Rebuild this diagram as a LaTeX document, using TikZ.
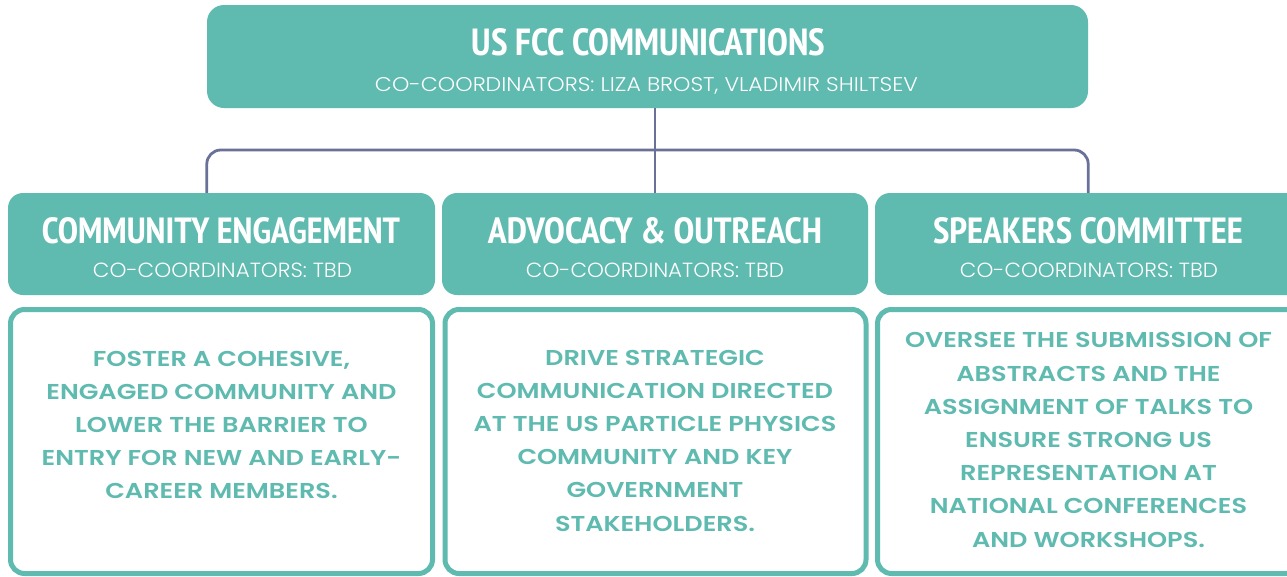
\documentclass[tikz,border=0pt]{standalone}
\usepackage{fontspec}
\usepackage{graphicx}
\IfFontExistsTF{PT Sans Narrow}{\newfontfamily\headf{PT Sans Narrow}}{\newfontfamily\headf{Fira Sans}}
\IfFontExistsTF{Poppins SemiBold}{\newfontfamily\bodyf{Poppins SemiBold}[FakeStretch=1.19]}{\newfontfamily\bodyf{Poppins}[UprightFont=*-Bold,FakeStretch=1.15]}
\IfFontExistsTF{Poppins Light}{\newfontfamily\subf{Poppins Light}}{\newfontfamily\subf{Poppins}}
\definecolor{tealc}{HTML}{5FBAB0}
\definecolor{connc}{HTML}{6A7198}
\newcommand{\fitbox}[3]{\resizebox{#1pt}{#2pt}{#3}}
\tikzset{
  fillbox/.style={fill=tealc, draw=none, rounded corners=15pt, inner sep=0pt},
  framebox/.style={fill=white, draw=tealc, line width=5pt, rounded corners=14pt, inner sep=0pt},
  headtxt/.style={anchor=base, text=white, inner sep=0pt},
  bodytxt/.style={align=center, text=tealc, inner sep=0pt, font=\bodyf\fontsize{21.5pt}{33.2pt}\selectfont},
  conn/.style={draw=connc, line width=2.8pt}
}
\begin{document}
\begin{tikzpicture}[x=1pt, y=-1pt]
\useasboundingbox (0,0) rectangle (1287,576);
\clip (0,0) rectangle (1287,576);
\fill[white] (0,0) rectangle (1287,576);
\coordinate (hl) at (0,150);
% boxes
\node[fillbox, rounded corners=17pt, minimum width=881pt, minimum height=103pt] (top) at (647.5,56.5) {};
\node[fillbox, minimum width=427pt, minimum height=102pt] (m1) at (221.5,244) {};
\node[fillbox, minimum width=426pt, minimum height=102pt] (m2) at (655,244) {};
\node[fillbox, minimum width=427pt, minimum height=102pt] (m3) at (1088.5,244) {};
% connectors
\draw[conn] (top.south -| m2.north) -- (m2.north);
\draw[conn, rounded corners=14pt] (top.west |- m1.north) -- (top.west |- hl) -- (top.east |- hl) -- (top.east |- m3.north);
% bottom frames
\node[framebox, minimum width=422pt, minimum height=264pt] (b1) at (221.5,441.5) {};
\node[framebox, minimum width=421pt, minimum height=264pt] (b2) at (655.5,441.5) {};
\node[framebox, minimum width=422pt, minimum height=264pt] (b3) at (1088.5,441.5) {};
% titles
\node[headtxt] (toptitle) at (648.5,55) {\fitbox{353}{27}{\headf\bfseries US FCC COMMUNICATIONS}};
\node[headtxt] (topsub) at (646.5,91) {\fitbox{543}{14}{\subf CO-COORDINATORS: LIZA BROST, VLADIMIR SHILTSEV}};
\node[headtxt] (h1) at (221,243) {\fitbox{358}{26}{\headf\bfseries COMMUNITY ENGAGEMENT}};
\node[headtxt] (h2) at (655,243) {\fitbox{334}{26}{\headf\bfseries ADVOCACY \& OUTREACH}};
\node[headtxt] (h3) at (1088,243) {\fitbox{310}{26}{\headf\bfseries SPEAKERS COMMITTEE}};
\node[headtxt] (s1) at (222.5,277.5) {\fitbox{259}{14.5}{\subf CO-COORDINATORS: TBD}};
\node[headtxt] (s2) at (655,277.5) {\fitbox{258}{14.5}{\subf CO-COORDINATORS: TBD}};
\node[headtxt] (s3) at (1089,277.5) {\fitbox{258}{14.5}{\subf CO-COORDINATORS: TBD}};
% body texts
\node[bodytxt] (t1) at (221.5,425) {FOSTER A COHESIVE,\\ENGAGED COMMUNITY AND\\LOWER THE BARRIER TO\\ENTRY FOR NEW AND EARLY-\\CAREER MEMBERS.};
\node[bodytxt] (t2) at (655,440.5) {DRIVE STRATEGIC\\COMMUNICATION DIRECTED\\AT THE US PARTICLE PHYSICS\\COMMUNITY AND KEY\\GOVERNMENT\\STAKEHOLDERS.};
\node[bodytxt] (t3) at (1088.5,440) {OVERSEE THE SUBMISSION OF\\ABSTRACTS AND THE\\ASSIGNMENT OF TALKS TO\\ENSURE STRONG US\\REPRESENTATION AT\\NATIONAL CONFERENCES\\AND WORKSHOPS.};
\end{tikzpicture}
\end{document}
